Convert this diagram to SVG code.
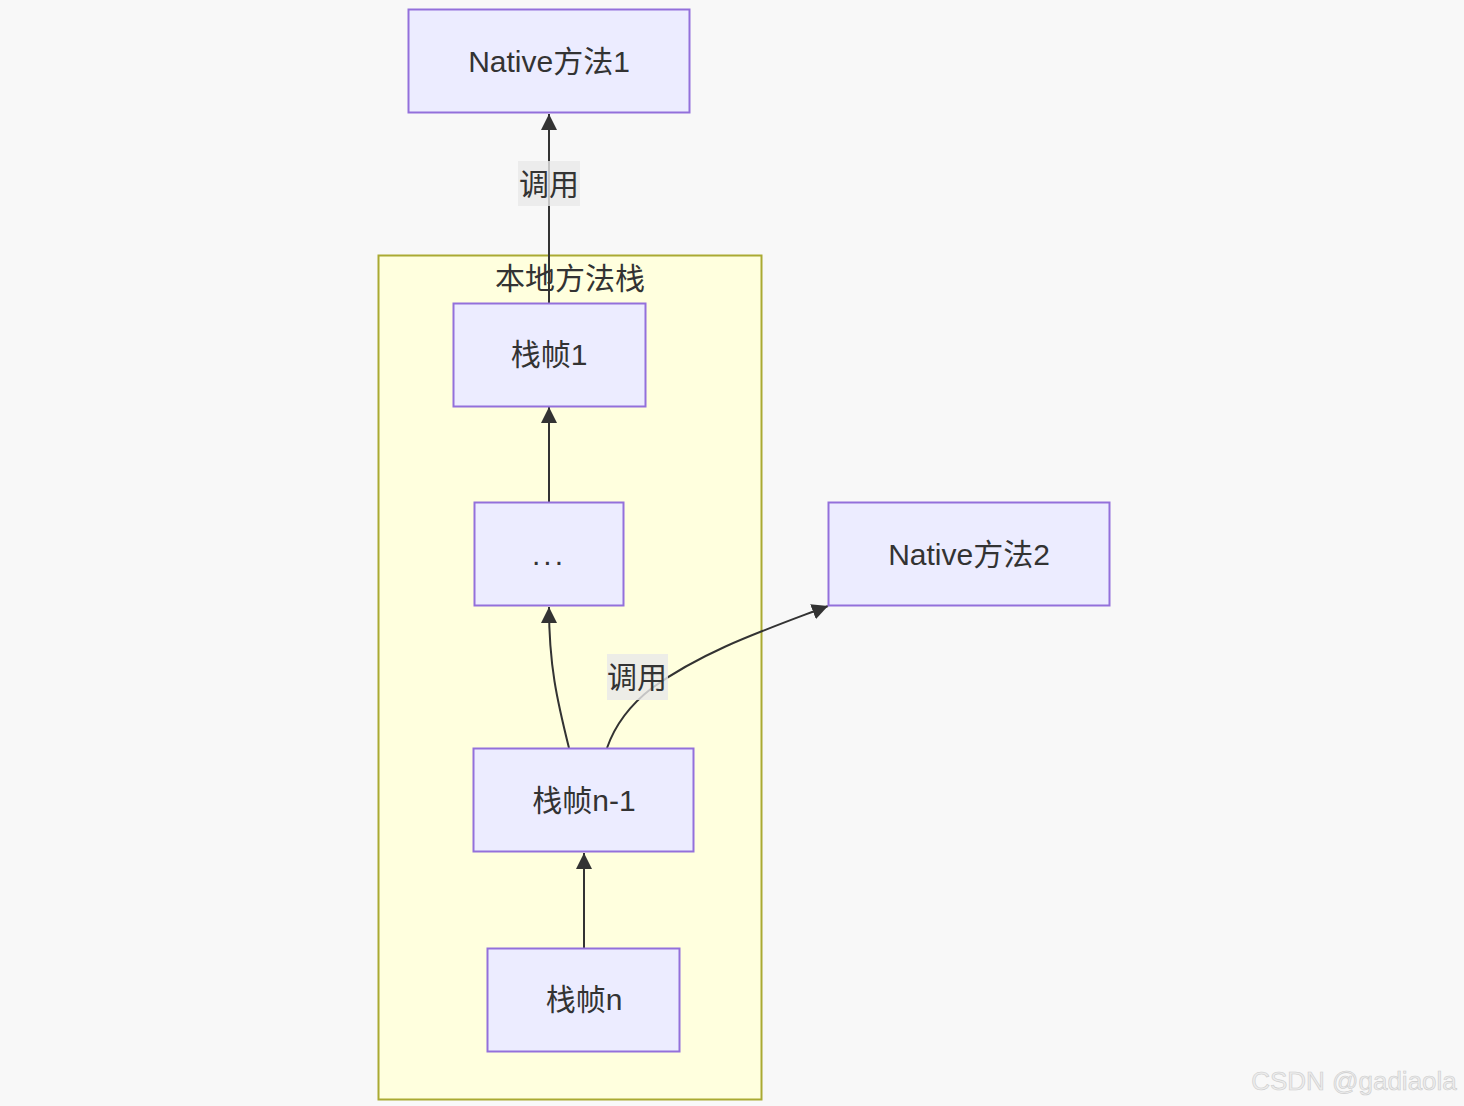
<svg xmlns="http://www.w3.org/2000/svg" width="1464" height="1106" viewBox="0 0 1464 1106">
<defs>
<marker id="arr" viewBox="0 0 10 10" refX="10" refY="5" markerWidth="16" markerHeight="16" markerUnits="userSpaceOnUse" orient="auto">
<path d="M0,0 L10,5 L0,10 z" fill="#333"/>
</marker>
</defs>
<style>
.node rect{fill:#ECECFF;stroke:#9370DB;stroke-width:2}
.lbl{font-family:"Liberation Sans","Noto Sans CJK SC",sans-serif;font-size:30px;fill:#333;text-anchor:middle;dominant-baseline:central}
.edge{fill:none;stroke:#333;stroke-width:2;marker-end:url(#arr)}
.elbg{fill:#e8e8e8;opacity:0.8}
</style>
<rect x="0" y="0" width="1464" height="1106" fill="#f8f8f8"/>
<g id="cluster-native-stack">
<rect x="378.500" y="255.500" width="383" height="844" fill="#ffffde" stroke="#aaaa33" stroke-width="2"/>
<text class="lbl" x="570" y="278">本地方法栈</text>
</g>
<g id="connectors">
<path class="edge" d="M549,303 L549,114"/>
<path class="edge" d="M549,502 L549,407"/>
<path class="edge" d="M569,748 C557,700 549,665 549,607"/>
<path class="edge" d="M607,748 C615,725 630,705 652,688 C705,650 765,630 828,606"/>
<path class="edge" d="M584,948 L584,853"/>
<rect class="elbg" x="518" y="161" width="62" height="45"/>
<text class="lbl" x="549" y="184">调用</text>
<rect class="elbg" x="607" y="654" width="61" height="46"/>
<text class="lbl" x="637" y="677">调用</text>
</g>
<g id="node-native1" class="node">
<rect x="408.500" y="9.500" width="281" height="103"/>
<text class="lbl" x="549" y="61">Native方法1</text>
</g>
<g id="node-frame1" class="node">
<rect x="453.500" y="303.500" width="192" height="103"/>
<text class="lbl" x="549" y="354">栈帧1</text>
</g>
<g id="node-dots" class="node">
<rect x="474.500" y="502.500" width="149" height="103"/>
<text class="lbl" x="549" y="554" letter-spacing="3">...</text>
</g>
<g id="node-native2" class="node">
<rect x="828.500" y="502.500" width="281" height="103"/>
<text class="lbl" x="969" y="554">Native方法2</text>
</g>
<g id="node-framen1" class="node">
<rect x="473.500" y="748.500" width="220" height="103"/>
<text class="lbl" x="584" y="800">栈帧n-1</text>
</g>
<g id="node-framen" class="node">
<rect x="487.500" y="948.500" width="192" height="103"/>
<text class="lbl" x="584" y="999">栈帧n</text>
</g>
<text x="1354" y="1081" font-family="Liberation Sans, sans-serif" font-size="26" fill="#ececec" stroke="#cccccc" stroke-width="0.6" text-anchor="middle" dominant-baseline="central">CSDN @gadiaola</text>
</svg>
